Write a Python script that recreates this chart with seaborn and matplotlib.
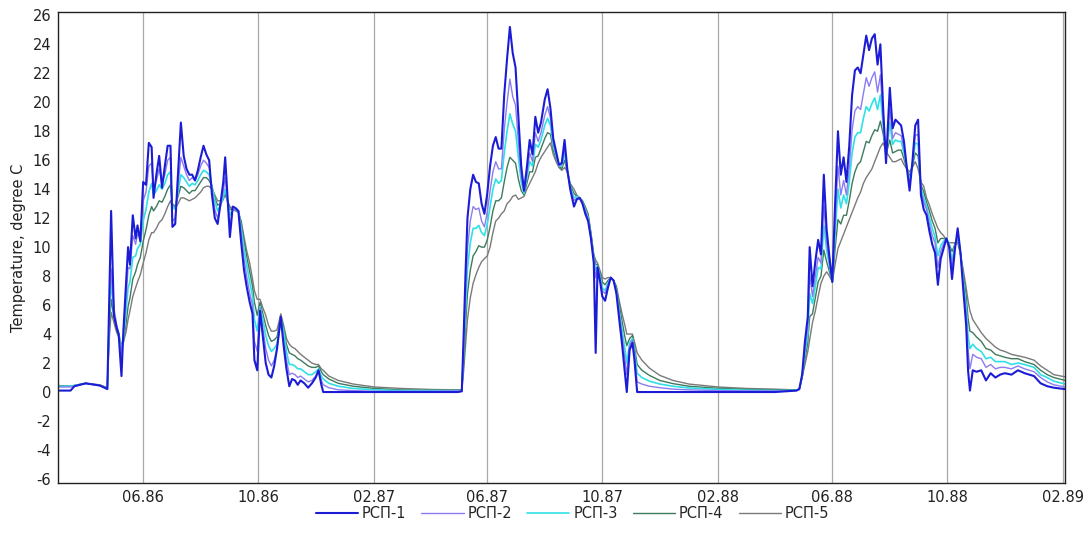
import matplotlib
matplotlib.use("Agg")
import matplotlib.pyplot as plt
import matplotlib.dates as mdates
import pandas as pd
import seaborn as sns

# Observation dates (irregular spacing: denser during the warm season)
dates = [
    # 1986
    "1986-03-03", "1986-03-16", "1986-03-20", "1986-04-01", "1986-04-16", "1986-04-24",
    "1986-04-26", "1986-04-28", "1986-05-01", "1986-05-04", "1986-05-06", "1986-05-09",
    "1986-05-11", "1986-05-14", "1986-05-16", "1986-05-18", "1986-05-21", "1986-05-24",
    "1986-05-26", "1986-05-29", "1986-06-01", "1986-06-04", "1986-06-07", "1986-06-10",
    "1986-06-12", "1986-06-15", "1986-06-18", "1986-06-21", "1986-06-24", "1986-06-27",
    "1986-06-30", "1986-07-02", "1986-07-05", "1986-07-08", "1986-07-11", "1986-07-14",
    "1986-07-17", "1986-07-20", "1986-07-23", "1986-07-26", "1986-07-29", "1986-08-01",
    "1986-08-04", "1986-08-07", "1986-08-10", "1986-08-13", "1986-08-16", "1986-08-19",
    "1986-08-22", "1986-08-25", "1986-08-27", "1986-08-29", "1986-09-01", "1986-09-04",
    "1986-09-07", "1986-09-10", "1986-09-13", "1986-09-16", "1986-09-19", "1986-09-22",
    "1986-09-25", "1986-09-27", "1986-09-30", "1986-10-03", "1986-10-06", "1986-10-09",
    "1986-10-12", "1986-10-15", "1986-10-18", "1986-10-21", "1986-10-25", "1986-10-28",
    "1986-10-31", "1986-11-03", "1986-11-06", "1986-11-09", "1986-11-12", "1986-11-15",
    "1986-11-19", "1986-11-23", "1986-11-27", "1986-12-01", "1986-12-04", "1986-12-07",
    "1986-12-09", "1986-12-15", "1986-12-25", "1987-01-10", "1987-02-01", "1987-03-01",
    "1987-04-01", "1987-05-01", "1987-05-05",
    # 1987
    "1987-05-07", "1987-05-09", "1987-05-11", "1987-05-14", "1987-05-17", "1987-05-20",
    "1987-05-23", "1987-05-26", "1987-05-29", "1987-06-01", "1987-06-04", "1987-06-07",
    "1987-06-10", "1987-06-13", "1987-06-16", "1987-06-19", "1987-06-22", "1987-06-25",
    "1987-06-28", "1987-07-01", "1987-07-04", "1987-07-07", "1987-07-10", "1987-07-13",
    "1987-07-16", "1987-07-19", "1987-07-22", "1987-07-25", "1987-07-28", "1987-08-01",
    "1987-08-04", "1987-08-07", "1987-08-10", "1987-08-13", "1987-08-16", "1987-08-19",
    "1987-08-22", "1987-08-25", "1987-08-28", "1987-09-01", "1987-09-04", "1987-09-07",
    "1987-09-10", "1987-09-13", "1987-09-16", "1987-09-19", "1987-09-22", "1987-09-24",
    "1987-09-26", "1987-09-29", "1987-10-01", "1987-10-04", "1987-10-07", "1987-10-10",
    "1987-10-13", "1987-10-16", "1987-10-19", "1987-10-22", "1987-10-25", "1987-10-27",
    "1987-10-30", "1987-11-02", "1987-11-04", "1987-11-07", "1987-11-12", "1987-11-20",
    "1987-12-01", "1987-12-15", "1988-01-01", "1988-02-01", "1988-03-01", "1988-04-01",
    # 1988
    "1988-04-24", "1988-04-27", "1988-04-30", "1988-05-03", "1988-05-06", "1988-05-08",
    "1988-05-11", "1988-05-14", "1988-05-17", "1988-05-20", "1988-05-23", "1988-05-26",
    "1988-05-29", "1988-06-01", "1988-06-04", "1988-06-07", "1988-06-10", "1988-06-13",
    "1988-06-16", "1988-06-19", "1988-06-22", "1988-06-25", "1988-06-28", "1988-07-01",
    "1988-07-04", "1988-07-07", "1988-07-10", "1988-07-13", "1988-07-16", "1988-07-19",
    "1988-07-22", "1988-07-25", "1988-07-28", "1988-08-01", "1988-08-04", "1988-08-07",
    "1988-08-10", "1988-08-13", "1988-08-16", "1988-08-19", "1988-08-22", "1988-08-25",
    "1988-08-28", "1988-08-31", "1988-09-03", "1988-09-06", "1988-09-09", "1988-09-12",
    "1988-09-15", "1988-09-18", "1988-09-21", "1988-09-24", "1988-09-27", "1988-09-30",
    "1988-10-03", "1988-10-06", "1988-10-09", "1988-10-12", "1988-10-15", "1988-10-18",
    "1988-10-21", "1988-10-23", "1988-10-25", "1988-10-28", "1988-11-01", "1988-11-06",
    "1988-11-11", "1988-11-16", "1988-11-21", "1988-11-26", "1988-12-01", "1988-12-08",
    "1988-12-15", "1988-12-22", "1989-01-01", "1989-01-08", "1989-01-15", "1989-01-22",
    "1989-02-03",
]

# Temperature, degree C, for each station
rsp1 = [
    0.1, 0.1, 0.4, 0.6, 0.45, 0.2,
    6.5, 12.5, 5.3, 4.4, 4.0, 1.1,
    4.2, 7.6, 10.0, 8.8, 12.2, 10.6,
    11.5, 10.4, 14.5, 14.3, 17.2, 16.9,
    13.4, 15.0, 16.3, 14.1, 15.6, 17.0,
    17.0, 11.4, 11.6, 15.1, 18.6, 16.3,
    15.4, 15.0, 15.0, 14.6, 15.3, 16.2,
    17.0, 16.4, 16.0, 13.6, 12.0, 11.6,
    13.0, 14.5, 16.2, 14.0, 10.7, 12.8,
    12.7, 12.5, 10.3, 8.4, 7.2, 6.2,
    5.4, 2.2, 1.5, 5.6, 3.8, 2.0,
    1.2, 1.0, 1.8, 3.0, 5.2, 3.2,
    1.6, 0.4, 0.9, 0.8, 0.5, 0.8,
    0.6, 0.3, 0.6, 1.0, 1.5, 0.5,
    0.0, 0.0, 0.0, 0.0, 0.0, 0.0,
    0.0, 0.0, 0.05,
    4.0, 8.3, 12.0, 14.0, 15.0, 14.5,
    14.4, 13.0, 12.3, 13.7, 15.6, 17.0,
    17.6, 16.8, 16.8, 20.5, 23.0, 25.2,
    23.4, 22.4, 19.0, 15.6, 13.9, 15.5,
    17.4, 16.4, 19.0, 17.9, 18.6, 20.2,
    20.9, 19.6, 17.5, 16.6, 15.7, 15.8,
    17.4, 15.3, 14.0, 12.8, 13.3, 13.4,
    13.0, 12.3, 11.8, 10.6, 8.9, 2.7,
    8.6, 7.5, 6.6, 6.3, 7.2, 7.9,
    7.7, 6.8, 5.0, 3.3, 1.3, 0.0,
    2.9, 3.4, 2.3, 0.0, 0.0, 0.0,
    0.0, 0.0, 0.0, 0.0, 0.0, 0.0,
    0.1, 0.2, 1.2, 3.5, 5.2, 10.0,
    7.3, 9.0, 10.5, 9.5, 15.0, 11.2,
    9.3, 7.6, 13.0, 18.0, 15.0, 16.2,
    14.5, 17.0, 20.5, 22.2, 22.4, 22.0,
    23.3, 24.6, 23.6, 24.4, 24.7, 22.6,
    24.0, 19.5, 15.8, 21.0, 18.2, 18.8,
    18.6, 18.4, 17.3, 15.5, 13.9, 15.9,
    18.4, 18.8, 13.6, 12.6, 12.2, 11.1,
    10.2, 9.6, 7.4, 9.2, 9.9, 10.6,
    10.0, 7.8, 9.8, 11.3, 9.6, 7.0,
    4.6, 1.5, 0.1, 1.5, 1.4, 1.5,
    0.8, 1.3, 1.0, 1.2, 1.3, 1.2,
    1.5, 1.3, 1.1, 0.6, 0.4, 0.3,
    0.2,
]

rsp2 = [
    0.35, 0.35, 0.4, 0.6, 0.45, 0.25,
    5.5, 8.5, 5.8, 4.6, 4.0, 2.6,
    3.8, 6.5, 8.6, 8.5, 10.8, 10.2,
    10.9, 10.6, 13.2, 13.8, 15.6, 15.8,
    14.0, 14.6, 15.4, 14.4, 15.0, 16.0,
    16.2, 11.8, 12.0, 14.3, 16.2, 15.6,
    15.0, 14.6, 14.8, 14.6, 15.0, 15.6,
    16.0, 15.8, 15.5, 14.0, 12.6, 12.0,
    12.8, 13.8, 14.8, 13.5, 11.5, 12.6,
    12.6, 12.5, 10.9, 9.2, 7.9, 6.8,
    6.0, 3.5, 2.8, 5.8, 4.4, 3.0,
    2.2, 1.8, 2.2, 3.0, 5.0, 3.6,
    2.2, 1.2, 1.3, 1.2, 1.0, 1.1,
    0.9, 0.7, 0.8, 1.1, 1.5, 0.8,
    0.5, 0.3, 0.15, 0.1, 0.05, 0.05,
    0.05, 0.08, 0.1,
    3.2, 6.8, 9.9, 11.8, 12.8, 12.6,
    12.7, 11.8, 11.4, 12.4, 13.9, 15.2,
    15.9, 15.4, 15.4, 18.1, 20.0, 21.6,
    20.4, 19.8, 17.3, 14.9, 13.8, 15.0,
    16.5, 15.9, 17.9, 17.3, 17.9, 19.1,
    19.7, 18.9, 17.2, 16.4, 15.6, 15.7,
    16.8, 15.3, 14.1, 13.2, 13.4, 13.4,
    13.1, 12.5, 11.9, 10.7, 9.1, 7.9,
    8.7, 7.7, 7.0, 6.8, 7.4, 7.9,
    7.7, 6.9, 5.4, 3.9, 2.3, 1.2,
    3.2, 3.6, 2.7, 0.7, 0.55, 0.4,
    0.3, 0.2, 0.15, 0.1, 0.08, 0.07,
    0.1, 0.2, 1.1, 3.0, 4.5, 8.1,
    6.6, 8.0, 9.3, 8.9, 12.9, 10.3,
    8.9, 7.6, 11.7, 15.6, 13.6, 14.6,
    13.6, 15.5, 18.1, 19.4, 19.7, 19.5,
    20.6, 21.7, 21.1, 21.7, 22.1, 20.7,
    21.9, 18.8, 16.0, 19.6, 17.5, 17.9,
    17.8, 17.7, 16.8, 15.5, 14.3, 15.8,
    17.7, 17.8, 13.9, 13.1, 12.6, 11.6,
    10.8, 10.3, 8.6, 9.7, 10.2, 10.6,
    10.1, 8.6, 10.0, 11.0, 9.6, 7.4,
    5.4, 2.9, 1.6, 2.6, 2.4, 2.3,
    1.7, 1.9, 1.6, 1.7, 1.7, 1.6,
    1.8, 1.6, 1.4, 1.0, 0.7, 0.5,
    0.35,
]

rsp3 = [
    0.4, 0.4, 0.45, 0.6, 0.45, 0.25,
    5.0, 7.6, 5.6, 4.5, 4.1, 3.0,
    3.6, 5.7, 7.2, 7.6, 9.3, 9.4,
    9.9, 10.2, 11.8, 12.6, 13.8, 14.4,
    13.6, 13.9, 14.3, 14.0, 14.4, 15.0,
    15.2, 12.8, 12.6, 13.8, 15.0, 14.8,
    14.5, 14.2, 14.4, 14.3, 14.6, 15.0,
    15.3, 15.2, 15.0, 14.2, 13.2, 12.5,
    12.9, 13.4, 14.0, 13.4, 12.2, 12.6,
    12.6, 12.5, 11.3, 9.9, 8.7, 7.6,
    6.6, 5.0, 4.2, 5.9, 5.0, 3.9,
    3.2, 2.8, 3.0, 3.3, 5.1, 4.2,
    2.8, 1.9, 1.9, 1.8, 1.6, 1.6,
    1.4, 1.2, 1.2, 1.4, 1.6, 1.1,
    0.9, 0.6, 0.4, 0.25, 0.15, 0.1,
    0.1, 0.1, 0.1,
    2.8, 5.8, 8.5, 10.3, 11.3, 11.3,
    11.5, 11.0, 10.8, 11.6, 12.8, 14.0,
    14.7, 14.4, 14.6, 16.5, 18.0, 19.2,
    18.5, 18.0, 16.2, 14.5, 13.7, 14.8,
    15.9, 15.6, 17.1, 16.9, 17.4, 18.4,
    18.9, 18.4, 17.0, 16.3, 15.6, 15.6,
    16.5, 15.3, 14.2, 13.4, 13.5, 13.4,
    13.1, 12.6, 12.0, 10.8, 9.2, 8.4,
    8.7, 7.9, 7.2, 7.0, 7.5, 7.9,
    7.7, 7.0, 5.6, 4.3, 3.0, 2.0,
    3.4, 3.7, 2.9, 1.3, 1.0, 0.75,
    0.55, 0.4, 0.28, 0.18, 0.13, 0.1,
    0.12, 0.2, 1.1, 2.7, 4.0, 6.8,
    6.1, 7.3, 8.6, 8.5, 11.5, 9.8,
    8.7, 7.6, 10.9, 14.0, 12.7, 13.6,
    13.0, 14.5, 16.5, 17.6, 17.9, 17.9,
    18.9, 19.7, 19.4, 19.9, 20.3, 19.5,
    20.5, 18.4, 16.2, 18.6, 17.1, 17.4,
    17.3, 17.3, 16.5, 15.5, 14.6, 15.7,
    17.2, 17.1, 14.1, 13.4, 12.8, 12.0,
    11.3, 10.7, 9.4, 10.1, 10.4, 10.6,
    10.2, 9.1, 10.1, 10.8, 9.6, 7.7,
    5.9, 3.9, 3.0, 3.3, 3.0, 2.8,
    2.3, 2.4, 2.1, 2.1, 2.1, 1.9,
    2.0, 1.9, 1.7, 1.2, 1.0, 0.75,
    0.55,
]

rsp4 = [
    0.4, 0.4, 0.45, 0.6, 0.45, 0.3,
    4.3, 6.4, 5.2, 4.3, 4.0, 3.2,
    3.5, 4.8, 5.9, 6.5, 7.8, 8.3,
    8.8, 9.3, 10.4, 11.2, 12.2, 12.8,
    12.5, 12.8, 13.2, 13.1, 13.5, 14.0,
    14.3, 13.0, 12.8, 13.5, 14.2, 14.1,
    13.9, 13.7, 13.9, 13.9, 14.2, 14.5,
    14.8, 14.8, 14.6, 14.2, 13.4, 12.9,
    13.0, 13.3, 13.7, 13.3, 12.6, 12.6,
    12.6, 12.5, 11.6, 10.4, 9.3, 8.3,
    7.3, 6.2, 5.3, 6.2, 5.4, 4.6,
    3.9, 3.5, 3.6, 3.8, 5.2, 4.4,
    3.3, 2.7, 2.6, 2.5, 2.3, 2.2,
    2.0, 1.8, 1.7, 1.7, 1.8, 1.4,
    1.2, 0.9, 0.6, 0.4, 0.25, 0.15,
    0.12, 0.12, 0.12,
    2.1, 4.6, 6.8, 8.4, 9.4, 9.7,
    10.1, 10.0, 10.0, 10.5, 11.4, 12.5,
    13.2, 13.2, 13.4, 14.5, 15.5, 16.2,
    16.0, 15.8, 14.7, 13.9, 13.6, 14.4,
    15.2, 15.2, 16.2, 16.3, 16.8, 17.5,
    17.9, 17.8, 16.7, 16.1, 15.6, 15.4,
    16.0, 15.2, 14.3, 13.7, 13.5, 13.4,
    13.2, 12.7, 12.2, 10.9, 9.4, 8.8,
    8.8, 8.1, 7.6, 7.4, 7.7, 7.9,
    7.7, 7.2, 6.0, 4.9, 3.8, 3.2,
    3.7, 3.9, 3.2, 1.9, 1.5, 1.15,
    0.8, 0.58, 0.4, 0.26, 0.18, 0.15,
    0.14, 0.2, 1.0, 2.3, 3.4, 5.2,
    5.4, 6.5, 7.6, 8.0, 9.8, 9.0,
    8.3, 7.6, 9.9, 11.9, 11.6, 12.2,
    12.2, 13.2, 14.4, 15.2, 15.7, 15.9,
    16.6, 17.3, 17.2, 17.7, 18.1, 18.0,
    18.7, 17.8, 16.4, 17.4, 16.5, 16.6,
    16.7, 16.7, 16.1, 15.4, 14.9, 15.6,
    16.5, 16.3, 14.3, 13.8, 13.1, 12.5,
    11.8, 11.3, 10.3, 10.6, 10.6, 10.5,
    10.2, 9.7, 10.2, 10.6, 9.5, 8.1,
    6.6, 5.1, 4.2, 4.1, 3.8, 3.5,
    3.0, 2.9, 2.6, 2.5, 2.4, 2.3,
    2.3, 2.1, 1.9, 1.5, 1.2, 1.0,
    0.8,
]

rsp5 = [
    0.45, 0.4, 0.45, 0.6, 0.5, 0.3,
    3.6, 5.5, 4.8, 4.1, 3.8, 3.3,
    3.4, 4.2, 5.0, 5.6, 6.6, 7.2,
    7.6, 8.1, 8.9, 9.6, 10.5, 11.0,
    11.0, 11.3, 11.7, 11.9, 12.3, 12.8,
    13.2, 12.8, 12.7, 13.0, 13.4, 13.4,
    13.3, 13.2, 13.3, 13.4, 13.6, 13.8,
    14.1, 14.2, 14.2, 14.0, 13.6, 13.2,
    13.2, 13.4, 13.6, 13.3, 12.8, 12.6,
    12.5, 12.4, 11.8, 10.7, 9.7, 8.9,
    7.8, 7.0, 6.4, 6.4, 5.8, 5.3,
    4.6, 4.2, 4.2, 4.3, 5.4, 4.6,
    3.7, 3.3, 3.1, 3.0, 2.8, 2.6,
    2.4, 2.2, 2.0, 1.9, 1.9, 1.6,
    1.5, 1.1, 0.8, 0.55, 0.35, 0.25,
    0.18, 0.15, 0.15,
    1.5, 3.3, 5.0, 6.5, 7.5, 8.1,
    8.6, 9.0, 9.2, 9.4, 10.0, 11.0,
    11.8, 12.0, 12.3, 12.5, 13.0, 13.2,
    13.5, 13.6, 13.3, 13.4, 13.5, 14.0,
    14.4, 14.8, 15.2, 15.8, 16.2, 16.6,
    16.9, 17.2, 16.4, 15.9, 15.5, 15.3,
    15.5, 15.2, 14.4, 14.0, 13.6, 13.4,
    13.2, 12.8, 12.3, 11.0, 9.5, 9.1,
    8.9, 8.3, 7.9, 7.8, 7.9, 7.9,
    7.7, 7.3, 6.3, 5.4, 4.6, 4.0,
    4.0, 4.0, 3.5, 2.7, 2.2, 1.65,
    1.15, 0.8, 0.55, 0.35, 0.25, 0.2,
    0.15, 0.2, 1.0, 1.9, 2.8, 3.6,
    4.8, 5.6, 6.6, 7.5, 8.0, 8.3,
    8.0, 7.6, 8.8, 9.9, 10.4, 10.9,
    11.4, 11.9, 12.4, 12.9, 13.4, 13.8,
    14.4, 14.8, 15.1, 15.4, 15.9, 16.4,
    16.9, 17.2, 16.6, 16.2, 15.9, 15.9,
    16.0, 16.1, 15.7, 15.4, 15.2, 15.5,
    15.9, 15.4, 14.5, 14.2, 13.4, 12.9,
    12.3, 11.8, 11.3, 11.0, 10.8, 10.5,
    10.3, 10.3, 10.3, 10.3, 9.5, 8.4,
    7.2, 6.3, 5.6, 5.0, 4.6, 4.1,
    3.7, 3.4, 3.1, 2.9, 2.8, 2.6,
    2.5, 2.4, 2.2, 1.8, 1.5, 1.2,
    1.05,
]

series_names = ["РСП-1", "РСП-2", "РСП-3", "РСП-4", "РСП-5"]
colors = ["#1c1cd6", "#8a7cf0", "#2fe0e6", "#3f7a5c", "#7a7a7a"]
widths = [1.5, 1.0, 1.2, 1.0, 1.0]

x_ticks = ["1986-06-01", "1986-10-01", "1987-02-01", "1987-06-01", "1987-10-01",
           "1988-02-01", "1988-06-01", "1988-10-01", "1989-02-01"]
y_ticks = list(range(-6, 27, 2))

frame = pd.DataFrame({"date": pd.to_datetime(dates)})
for name, vals in zip(series_names, [rsp1, rsp2, rsp3, rsp4, rsp5]):
    frame[name] = vals
long = frame.melt(id_vars="date", var_name="station", value_name="temp")

sns.set_theme(style="white")
plt.rcParams["font.family"] = ["DejaVu Sans"]
plt.rcParams["axes.unicode_minus"] = False

fig = plt.figure(figsize=(10.88, 5.45), dpi=100)
ax = fig.add_axes([0.0536, 0.1132, 0.9254, 0.8653])

# draw the smoothest record first so the most variable one sits on top
for name, col, lw in reversed(list(zip(series_names, colors, widths))):
    sub = long[long["station"] == name]
    sns.lineplot(data=sub, x="date", y="temp", color=col, linewidth=lw,
                 ax=ax, estimator=None, sort=False, label=name)

ax.set_xlim(pd.Timestamp("1986-03-03"), pd.Timestamp("1989-02-03"))
ax.set_ylim(-6.3, 26.25)
ax.set_yticks(y_ticks)
ax.set_xticks(pd.to_datetime(x_ticks))
ax.xaxis.set_major_formatter(mdates.DateFormatter("%m.%y"))
ax.grid(axis="x", color="#a8a8a8", linewidth=0.9)
ax.grid(axis="y", visible=False)
ax.set_xlabel("")
ax.set_ylabel("Temperature, degree C", fontsize=10.5, color="#222222", labelpad=5)
ax.tick_params(axis="both", length=0, labelsize=10.5, labelcolor="#222222", pad=5)
for sp in ax.spines.values():
    sp.set_color("#222222")
    sp.set_linewidth(1.0)

h, l = ax.get_legend_handles_labels()
order = [l.index(n) for n in series_names]
ax.legend_.remove()
fig.legend([h[i] for i in order], [l[i] for i in order], loc="center",
           bbox_to_anchor=(0.526, 0.058), ncol=5, frameon=False, fontsize=10.5,
           handlelength=2.9, handletextpad=0.25, columnspacing=1.05)

fig.savefig("out.png", dpi=100)
